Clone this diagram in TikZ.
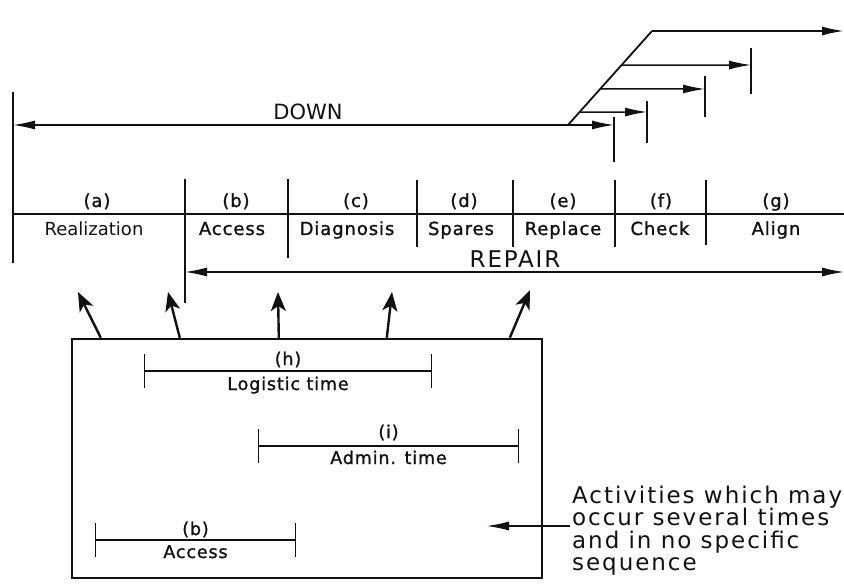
\documentclass[tikz,border=0pt]{standalone}
\usepackage{fontspec}
\setmainfont{DejaVu Sans}
\newfontfamily\lettering[LetterSpace=5,FakeBold=1.2]{DejaVu Sans}
\newfontfamily\widelettering[LetterSpace=8]{DejaVu Sans}
\newfontfamily\notelettering[LetterSpace=8.5]{DejaVu Sans}
\usepackage{tikz}
\usetikzlibrary{arrows.meta,positioning,calc}
\definecolor{ink}{HTML}{111111}
\tikzset{
  tag/.style={font={\lettering\fontsize{18}{20}\selectfont}, text=ink,
    inner sep=0pt, anchor=base},
  boxtag/.style={font={\lettering\fontsize{17.5}{19}\selectfont}, text=ink,
    inner sep=0pt, anchor=base},
  plainlbl/.style={font={\fontsize{#1}{#1}\selectfont}, text=ink,
    inner sep=0pt, anchor=base},
  plainlbl/.default=18,
  biglbl/.style={font={\widelettering\fontsize{23}{23}\selectfont}, text=ink,
    inner sep=0pt, anchor=base},
  note/.style={font={\notelettering\fontsize{23}{22.5}\selectfont}, text=ink,
    align=left, inner sep=0pt, anchor=base west},
  timeline/.style={draw=ink, line width=1.4pt},
  tickmark/.style={draw=ink, line width=1.6pt},
  flowarrow/.style={-{Latex[length=22pt,width=9pt]}, draw=ink, line width=1.5pt},
  bothway/.style={{Latex[length=22pt,width=9pt]}-{Latex[length=22pt,width=9pt]},
    draw=ink, line width=1.5pt},
  outarrow/.style={-{Stealth[length=19pt,width=15pt,inset=5pt]}, draw=ink,
    line width=2.4pt},
  span/.style={{Bar[width=34pt]}-{Bar[width=34pt]}, draw=ink, line width=1.3pt},
  pool/.style={draw=ink, line width=2.4pt, minimum width=470pt,
    minimum height=239pt, inner sep=0pt},
}
\begin{document}
\begin{tikzpicture}[x=1pt,y=-1pt]
  \useasboundingbox (0,0) rectangle (844,588);

  % DOWN and the stepped finish
  \coordinate (dnL) at (13,125);
  \coordinate (kink) at (568,125);
  \coordinate (peak) at (652,31);
  \coordinate (upR) at (844,31);
  \coordinate (s1) at ($(kink)!0.138!(peak)$);
  \coordinate (s2) at ($(kink)!0.383!(peak)$);
  \coordinate (s3) at ($(kink)!0.638!(peak)$);
  \coordinate (e0) at (614,125);
  \coordinate (e1) at (647,112);
  \coordinate (e2) at (705,89);
  \coordinate (e3) at (751,65);
  \draw[flowarrow] (kink) -- (dnL);
  \draw[timeline, line width=1.8pt] (kink) -- (peak);
  \draw[flowarrow, line width=1.8pt] (peak) -- (upR);
  \draw[flowarrow] (kink) -- (e0);
  \draw[flowarrow] (s1) -- (e1);
  \draw[flowarrow] (s2) -- (e2);
  \draw[flowarrow] (s3) -- (e3);
  \foreach \x/\a/\b in {614/117/162, 647/101/143, 705/76/117, 751/48/94}
    \draw[tickmark] (\x,\a) -- (\x,\b);
  \node[plainlbl=21] (down) at (308,120) {DOWN};

  % phase row
  \coordinate (rowL) at (13,214);
  \coordinate (rowR) at (844,214);
  \draw[timeline] (rowL) -- (rowR);
  \foreach \x/\a/\b in {13/92/263, 185/179/303, 288/179/258, 417/180/247,
                        513/180/247, 615/180/247, 706/180/245}
    \draw[tickmark] (\x,\a) -- (\x,\b);
  \foreach \k/\x in {a/97, b/236, c/356, d/464, e/563, f/661, g/776}
    \node[tag] (tag-\k) at (\x,207) {(\k)};
  \node[plainlbl] (ph-a) at (94,236) {Realization};
  \foreach \k/\x/\t in {b/232/Access, c/347/Diagnosis, d/461/Spares,
                        e/563/Replace, f/660/Check, g/776/Align}
    \node[tag] (ph-\k) at (\x,235) {\t};

  % REPAIR
  \coordinate (rpL) at (185,272);
  \coordinate (rpR) at (844,272);
  \draw[bothway] (rpL) -- (rpR);
  \node[biglbl] (repair) at (515,268) {REPAIR};

  % activities box
  \node[pool] (pool) at (307,458.5) {};
  \foreach \bx/\tx/\ty in {102/78/292, 181/168/292, 280/278/292,
                           388/392/292, 511/530/290}
    \draw[outarrow] ($(pool.north west)+(\bx-72,0)$) -- (\tx,\ty);

  \coordinate (h0) at (144,371);
  \coordinate (h1) at (432,371);
  \coordinate (i0) at (258,446);
  \coordinate (i1) at (519,446);
  \coordinate (b0) at (95,540);
  \coordinate (b1) at (296,540);
  \draw[span] (h0) -- (h1);
  \draw[span] (i0) -- (i1);
  \draw[span] (b0) -- (b1);
  \node[boxtag] (h-tag) at ($(h0)!0.5!(h1)+(0,-6)$) {(h)};
  \node[boxtag] (h-name) at ($(h0)!0.5!(h1)+(0,19)$) {Logistic time};
  \node[boxtag] (i-tag) at ($(i0)!0.5!(i1)+(0,-8)$) {(i)};
  \node[boxtag] (i-name) at ($(i0)!0.5!(i1)+(0,18)$) {Admin. time};
  \node[boxtag] (b-tag) at ($(b0)!0.5!(b1)+(0,-5)$) {(b)};
  \node[boxtag] (b-name) at ($(b0)!0.5!(b1)+(0,18)$) {Access};

  % note
  \coordinate (nt) at (570,526);
  \coordinate (nh) at (487,526);
  \draw[flowarrow, line width=1.1pt] (nt) -- (nh);
  \node[note] (note) at (572,570.5)
    {Activities which may\\occur several times\\and in no specific\\sequence};
\end{tikzpicture}
\end{document}
